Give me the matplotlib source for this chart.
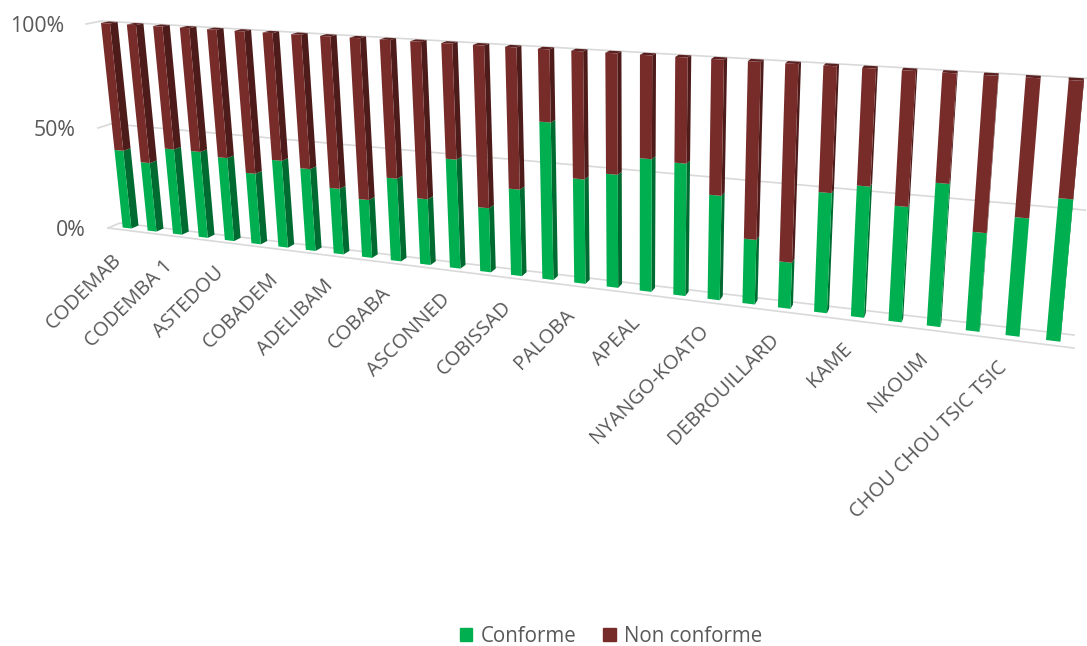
"""Pseudo-3D stacked 100% columns, Excel style perspective."""
import matplotlib
matplotlib.use("Agg")
import matplotlib.pyplot as plt
import numpy as np
from matplotlib.collections import PolyCollection
from matplotlib.patches import Patch

plt.rcParams["font.family"] = ["Open Sans", "DejaVu Sans"]

labels = ["CODEMAB", "CODEMBA 1", "ASTEDOU", "COBADEM", "ADELIBAM", "COBABA",
          "ASCONNED", "COBISSAD", "PALOBA", "APEAL", "NYANGO-KOATO",
          "DEBROUILLARD", "KAME", "NKOUM", "CHOU CHOU TSIC TSIC"]
conforme = [38.9, 34.1, 42.0, 42.0, 40.3, 34.1, 41.5, 38.9, 31.0, 27.2,
            38.4, 30.4, 49.6, 29.2, 38.9, 69.3, 46.1, 49.4, 57.3, 56.7,
            44.6, 27.6, 19.6, 49.9, 53.9, 47.2, 57.7, 39.8, 47.1, 55.9]
non_conforme = [61.1, 65.9, 58.0, 58.0, 59.7, 65.9, 58.5, 61.1, 69.0, 72.8,
                61.6, 69.6, 50.4, 70.8, 61.1, 30.7, 53.9, 50.6, 42.7, 43.3,
                55.4, 72.4, 80.4, 50.1, 46.1, 52.8, 42.3, 60.2, 52.9, 44.1]
yticks = [0, 50, 100]

GREEN, GREEN_DK = "#00B050", "#006B30"
RED, RED_DK, RED_TOP = "#772C2A", "#4D1B19", "#5A2120"
GRID = "#D9D9D9"
TEXT = "#595959"
BAR_W = 0.35


def fit_quad(p00, p10, p11, p01):
    # unit square -> pixel quad
    (x0, y0), (x1, y1), (x2, y2), (x3, y3) = p00, p10, p11, p01
    sx, sy = x0 - x1 + x2 - x3, y0 - y1 + y2 - y3
    dx1, dx2, dy1, dy2 = x1 - x2, x3 - x2, y1 - y2, y3 - y2
    den = dx1 * dy2 - dx2 * dy1
    g = (sx * dy2 - dx2 * sy) / den
    h = (dx1 * sy - sx * dy1) / den
    return np.array([[x1 - x0 + g * x1, x3 - x0 + h * x3, x0],
                     [y1 - y0 + g * y1, y3 - y0 + h * y3, y0],
                     [g, h, 1.0]])


n_bars = len(conforme)
FRONT = fit_quad((122.7, 227.5), (1046, 340), (1068.7, 80), (101, 23))
WALL = fit_quad((120, 223), (1074, 335), (1097, 79), (101.5, 21))
DEPTH = 0.0077 * np.array([1060.0, -172.0, 1.0])


def bar_pt(u, pct, d=0.0):
    v = FRONT @ [u / (n_bars - 1), pct / 100, 1.0] + d * DEPTH
    return v[0] / v[2], v[1] / v[2]


def wall_pt(s, pct):
    v = WALL @ [s, pct / 100, 1.0]
    return v[0] / v[2], v[1] / v[2]


fig = plt.figure(figsize=(10.87, 6.46), dpi=100)
ax = fig.add_axes([0, 0, 1, 1])
ax.set_xlim(0, 1087)
ax.set_ylim(646, 0)
ax.axis("off")

# grid: back wall, stubs on the left, front edge of the floor
stub_ends = {0: (108, 228), 50: (98, 128), 100: (86, 24)}
for t in yticks:
    a, b = wall_pt(0, t), wall_pt(1, t)
    ax.plot([stub_ends[t][0], a[0], b[0]], [stub_ends[t][1], a[1], b[1]],
            color=GRID, lw=1.2, zorder=1)
    ax.text(stub_ends[t][0] - 22, stub_ends[t][1] + 2, f"{t}%", ha="right", va="center",
            fontsize=15.3, color=TEXT)
ax.plot([108, 1074], [228, 348], color=GRID, lw=1.2, zorder=1)

# bars
for i in range(n_bars):
    g, r = conforme[i], non_conforme[i]
    polys, cols = [], []
    for lo, hi, col, dk in [(0, g, GREEN, GREEN_DK), (g, g + r, RED, RED_DK)]:
        polys.append([bar_pt(i + BAR_W, lo), bar_pt(i + BAR_W, lo, 1), bar_pt(i + BAR_W, hi, 1), bar_pt(i + BAR_W, hi)])
        cols.append(dk)
        polys.append([bar_pt(i, lo), bar_pt(i + BAR_W, lo), bar_pt(i + BAR_W, hi), bar_pt(i, hi)])
        cols.append(col)
    top = [bar_pt(i, g + r), bar_pt(i + BAR_W, g + r), bar_pt(i + BAR_W, g + r, 1), bar_pt(i, g + r, 1)]
    polys.insert(0, top)
    cols.insert(0, RED_TOP)
    ax.add_collection(PolyCollection(polys, facecolors=cols, edgecolors="none", zorder=2))

# every second category is labelled
for k, name in enumerate(labels):
    x, y = bar_pt(2 * k + BAR_W / 2, 0)
    ax.text(x - 8, y + 29, name, rotation=45, rotation_mode="anchor", ha="right", va="center",
            fontsize=14.5, color=TEXT)

handles = [Patch(color=GREEN, label="Conforme"), Patch(color=RED, label="Non conforme")]
ax.legend(handles=handles, loc="center", bbox_to_anchor=(611 / 1087, 1 - 636 / 646), ncol=2,
          frameon=False, fontsize=14.8, labelcolor=TEXT, handlelength=0.62, handleheight=0.62,
          handletextpad=0.4, columnspacing=1.3, borderpad=0)

fig.savefig("out.png", dpi=100)
